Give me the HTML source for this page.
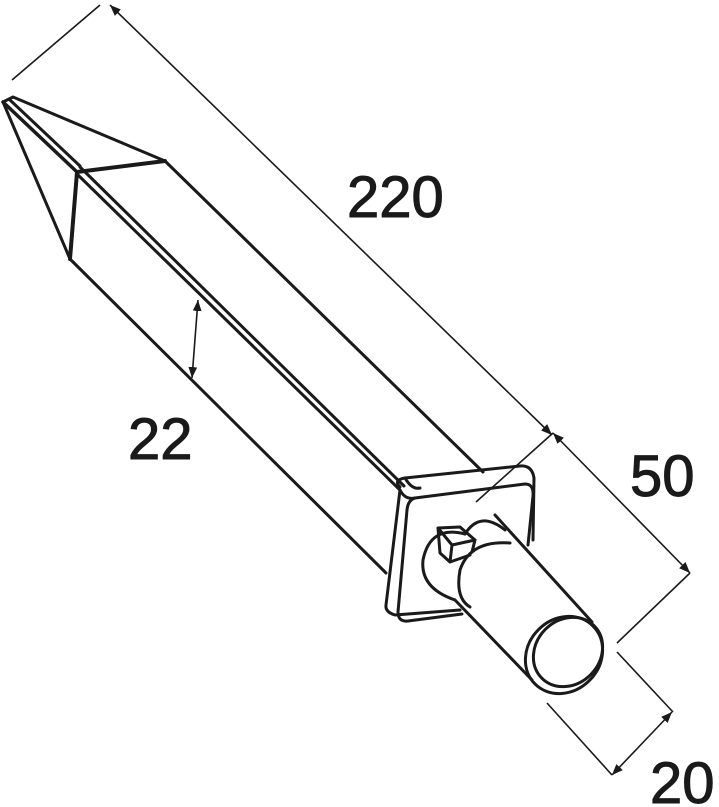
<!DOCTYPE html>
<html><head><meta charset="utf-8"><style>html,body{margin:0;padding:0;background:#fff}svg{display:block}</style></head><body>
<svg width="719" height="807" viewBox="0 0 719 807" xmlns="http://www.w3.org/2000/svg">
<defs>
<marker id="a" viewBox="0 0 10 10" refX="10" refY="5" markerWidth="11" markerHeight="11" markerUnits="userSpaceOnUse" orient="auto-start-reverse"><path d="M0,1 L10,5 L0,9 z" fill="#1a1a1a"/></marker>
</defs>
<g fill="none" stroke="#1a1a1a" stroke-width="3" stroke-linejoin="round" stroke-linecap="round">
<path d="M3,102 L13,97 L165,161 L77,172 L70,259 L3,102 Z"/>
<path d="M3,102 L77,172" stroke-width="3.5"/>
<path d="M77,172 L165,161 M77,172 L70,259" stroke-width="4"/>
<path d="M10,100 L80,166"/>
<path d="M165,161 L483,472"/>
<path d="M80,167 L404,486"/>
<path d="M77,174 L400,490"/>
<path d="M70,259 L386,573"/>
<path d="M400,487 Q393,480 405,478 L520,466 Q532,465 534,478 L533,540"/>
<path d="M405,478 Q412,490 420,488"/>
<path d="M400,490 Q405,500 415,498 L525,484 Q534,484 533,496 L528,545"/>
<path d="M400,490 L386,605 Q385,612 395,615 L460,610"/>
<path d="M415,498 Q408,500 407,510 L398,612 Q398,622 408,621 L462,614"/>
<path d="M438,528 L460,527 L475,540 L452,545 Z M438,528 L440,553 L450,562 L470,555 M452,545 L450,562 M475,540 L472,552"/>
<path d="M465,534 Q430,525 423,560 Q420,588 455,600"/>
<path d="M465,534 Q480,510 505,530"/>
<path d="M510,543 Q470,540 460,570 Q455,598 470,607"/>
<path d="M495,515 L592,622"/>
<path d="M455,600 L532,680"/>
<ellipse cx="564" cy="655" rx="41" ry="36" transform="rotate(-45 564 655)"/>
<ellipse cx="568" cy="652" rx="37" ry="32" transform="rotate(-45 568 652)"/>
</g>
<g fill="none" stroke="#1a1a1a" stroke-width="1.6">
<path d="M12,80 L100,5"/>
<path d="M110,5 L552,435" marker-start="url(#a)" marker-end="url(#a)"/>
<path d="M476,502 L553,433"/>
<path d="M553,433 L690,573" marker-start="url(#a)" marker-end="url(#a)"/>
<path d="M617,643 L690,573"/>
<path d="M617,652 L673,712"/>
<path d="M547,703 L612,775"/>
<path d="M672,712 L612,775" marker-start="url(#a)" marker-end="url(#a)"/>
<path d="M198,300 L192,378" marker-start="url(#a)" marker-end="url(#a)"/>
</g>
<g font-family="'Liberation Sans', 'DejaVu Sans', sans-serif" font-size="58" fill="#1a1a1a" stroke="#1a1a1a" stroke-width="1">
<text x="347" y="217">220</text>
<text x="128" y="459">22</text>
<text x="630" y="496">50</text>
<text x="650" y="803">20</text>
</g>
</svg>
</body></html>
